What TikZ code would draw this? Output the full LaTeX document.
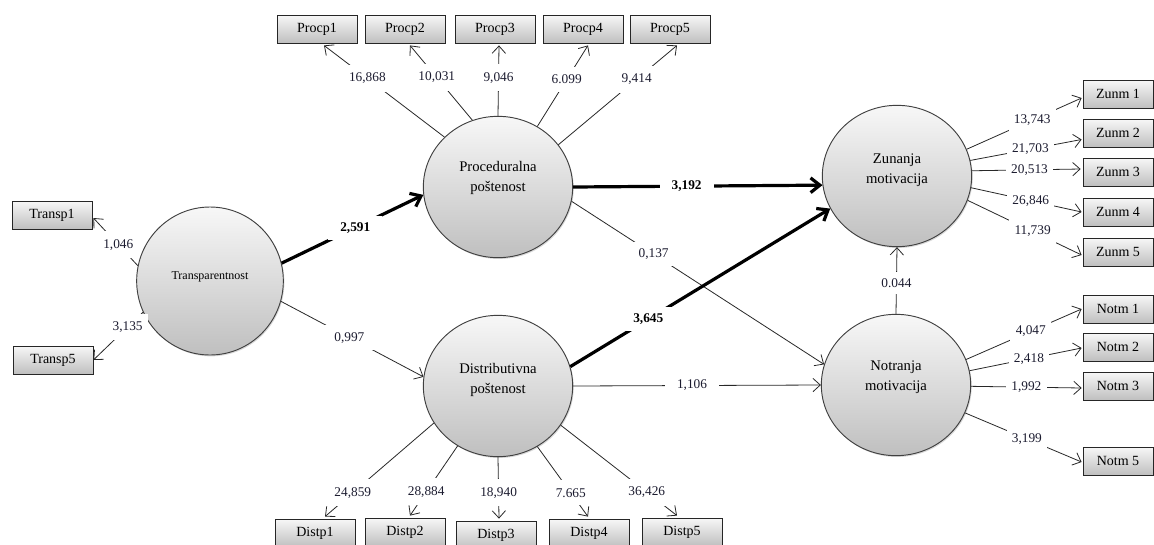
\documentclass[tikz,border=0pt]{standalone}
\usepackage{fontspec}
\setmainfont{Liberation Serif}
\usetikzlibrary{shapes.geometric,arrows.meta,shadows,calc}
\definecolor{numc}{RGB}{28,28,48}
\definecolor{edgec}{RGB}{40,40,40}
\tikzset{
  latent/.style={ellipse, draw=black!75, line width=0.7pt, inner sep=0pt,
    top color=black!3, bottom color=black!25,
    minimum width=112pt, minimum height=106pt,
    drop shadow={shadow xshift=0.8pt, shadow yshift=-1pt, fill=black!30, opacity=0.5}},
  latentT/.style={latent, minimum width=110pt, minimum height=111pt},
  ltext/.style={align=center, inner sep=0pt, font=\fontsize{11}{15}\selectfont},
  mvbox/.style={rectangle, draw=black!85, line width=0.6pt, inner sep=0pt,
    top color=black!3, bottom color=black!25,
    minimum width=60pt, minimum height=21pt, font=\fontsize{10.5}{12}\selectfont,
    drop shadow={shadow xshift=1pt, shadow yshift=-1pt, fill=black!40, opacity=0.5}},
  mvboxR/.style={mvbox, minimum width=52.5pt},
  ind/.style={draw=edgec, line width=0.6pt, -{Straight Barb[length=5.5pt,width=10pt]}},
  pth/.style={draw=edgec, line width=0.6pt, -{Straight Barb[length=5.5pt,width=10pt]}},
  heavy/.style={draw=black, line width=2.4pt, -{Straight Barb[length=7pt,width=11pt]}},
  lab/.style={fill=white, inner xsep=4pt, inner ysep=6pt, text=numc, font=\fontsize{10}{12}\selectfont},
  plab/.style={lab, inner xsep=9pt, inner ysep=5pt},
  blab/.style={plab, text=black, font=\bfseries\fontsize{10}{12}\selectfont},
}
\begin{document}
\begin{tikzpicture}[x=0.75pt,y=-0.75pt]
\useasboundingbox (0,0) rectangle (1154,544);
\fill[white] (0,0) rectangle (1154,544);

% latent constructs
\node[latentT] (tr) at (210,281) {};
\node[latent] (proc) at (498,187) {};
\node[latent] (dist) at (498,386) {};
\node[latent] (zun) at (897,176) {};
\node[latent] (notr) at (896,385) {};
\node[ltext, font=\fontsize{9}{11}\selectfont] (tr-t) at (210,277) {Transparentnost};
\node[ltext] (proc-t) at (498,178) {Proceduralna\\poštenost};
\node[ltext] (dist-t) at (498,380) {Distributivna\\poštenost};
\node[ltext] (zun-t) at (897,170) {Zunanja\\motivacija};
\node[ltext] (notr-t) at (896,377) {Notranja\\motivacija};

% indicators
\node[mvbox] (t1) at (52,215) {Transp1};
\node[mvbox] (t5) at (53,360) {Transp5};
\node[mvbox] (p1) at (317,29) {Procp1};
\node[mvbox] (p2) at (405,29) {Procp2};
\node[mvbox] (p3) at (495,29) {Procp3};
\node[mvbox] (p4) at (583,29) {Procp4};
\node[mvbox] (p5) at (670,29) {Procp5};
\node[mvbox] (d1) at (315,533) {Distp1};
\node[mvbox] (d2) at (405,532) {Distp2};
\node[mvbox] (d3) at (496,535) {Distp3};
\node[mvbox] (d4) at (589,533) {Distp4};
\node[mvbox] (d5) at (682,532) {Distp5};
\node[mvboxR] (z1) at (1118,94) {Zunm 1};
\node[mvboxR] (z2) at (1118,133) {Zunm 2};
\node[mvboxR] (z3) at (1118,172) {Zunm 3};
\node[mvboxR] (z4) at (1118,212) {Zunm 4};
\node[mvboxR] (z5) at (1118,252) {Zunm 5};
\node[mvboxR] (n1) at (1118,309) {Notm 1};
\node[mvboxR] (n2) at (1118,347) {Notm 2};
\node[mvboxR] (n3) at (1118,386) {Notm 3};
\node[mvboxR] (n5) at (1118,461) {Notm 5};

% outer loadings
\draw[ind] (tr.168) -- node[lab,pos=0.44] {1,046} ($(t1.east)+(1,3)$);
\draw[ind] (tr.205) -- node[lab,pos=0.31] {3,135} (t5.east);

\draw[ind] (proc.137) -- node[lab,pos=0.64] {16,868} ($(p1.south)+(7,2)$);
\draw[ind] (proc.111) -- node[lab,pos=0.57] {10,031} ($(p2.south)+(5,2)$);
\draw[ind] (proc.90) -- node[lab,pos=0.54] {9,046} ($(p3.south)+(4,2)$);
\draw[ind] (proc.57.7) -- node[lab,pos=0.58] {6.099} ($(p4.south)+(5,2)$);
\draw[ind] (proc.35.5) -- node[lab,pos=0.66] {9,414} ($(p5.south)+(7,2)$);

\draw[ind] (dist.210) -- node[lab,pos=0.745] {24,859} ($(d1.north)+(10,-2)$);
\draw[ind] (dist.236) -- node[lab,pos=0.66] {28,884} ($(d2.north)+(5,-2)$);
\draw[ind] (dist.270) -- node[lab,pos=0.58] {18,940} ($(d3.north)+(3,-2)$);
\draw[ind] (dist.303) -- node[lab,pos=0.66] {7.665} ($(d4.north)+(-1,-2)$);
\draw[ind] (dist.328) -- node[lab,pos=0.74] {36,426} ($(d5.north)+(-5,-2)$);

\draw[ind] (zun.21.7) -- node[lab,pos=0.57] {13,743} ($(z1.west)+(-1,4)$);
\draw[ind] (zun.12.8) -- node[lab,pos=0.54] {21,703} ($(z2.west)+(-1,6.5)$);
\draw[ind] (zun.4.6) -- node[lab,pos=0.53] {20,513} ($(z3.west)+(-2,-3)$);
\draw[ind] (zun.-9) -- node[lab,pos=0.54] {26,846} ($(z4.west)+(-1,0)$);
\draw[ind] (zun.-19.5) -- node[lab,pos=0.57] {11,739} ($(z5.west)+(-1,3)$);

\draw[ind] (notr.20.7) -- node[lab,pos=0.56] {4,047} ($(n1.west)+(-1,0)$);
\draw[ind] (notr.11) -- node[lab,pos=0.53] {2,418} ($(n2.west)+(-1,1)$);
\draw[ind] (notr.-1.5) -- node[lab,pos=0.5] {1,992} ($(n3.west)+(-1,2)$);
\draw[ind] (notr.-22) -- node[lab,pos=0.53] {3,199} ($(n5.west)+(-1,1)$);

% structural paths
\draw[heavy] (tr.14) -- node[blab,pos=0.52] {2,591} (proc.186);
\draw[pth] (tr.-16) -- node[plab,pos=0.48] {0,997} (dist.173);
\draw[heavy] (proc.east) -- node[blab,pos=0.455] {3,192} (zun.187);
\draw[pth] (proc.-11.7) -- node[plab,pos=0.325] {0,137} (notr.164);
\draw[heavy] (dist.15.6) -- node[blab,pos=0.30] {3,645} (zun.206);
\draw[pth] (dist.east) -- node[plab,pos=0.48] {1,106} (notr.west);
\draw[pth] (notr.north) -- node[plab,pos=0.46] {0.044} (zun.south);
\end{tikzpicture}
\end{document}
